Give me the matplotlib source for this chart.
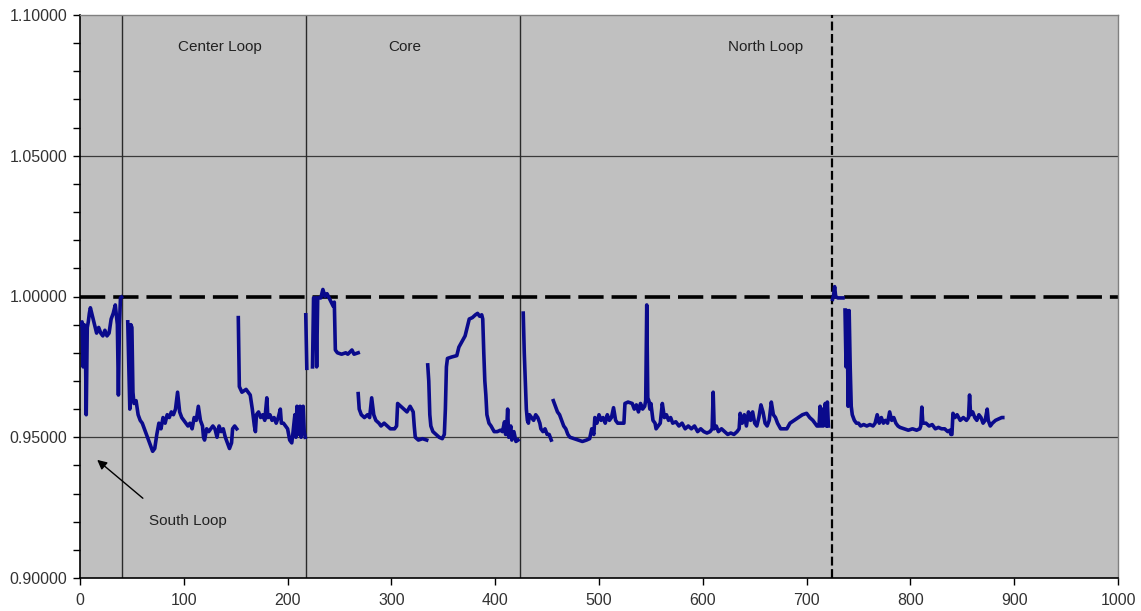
import numpy as np
import matplotlib
matplotlib.use("Agg")
import matplotlib.pyplot as plt
from matplotlib.ticker import MultipleLocator, FormatStrFormatter

plt.rcParams['font.family'] = ['Liberation Sans', 'DejaVu Sans']

# --- Datos (tramos separados por huecos) ---
tramo1_x = [1, 2, 3, 4, 5, 6, 7, 8, 9, 10, 12, 14, 16, 18, 20, 22, 24, 26, 28, 30, 32, 34, 36, 37, 38, 39, 40]
tramo1_y = [0.990, 0.991, 0.975, 0.990, 0.989, 0.958, 0.989, 0.991, 0.994, 0.996, 0.993, 0.990, 0.987, 0.989,
            0.987, 0.986, 0.988, 0.986, 0.987, 0.992, 0.994, 0.997, 0.990, 0.965, 0.990, 0.9995, 0.9998]

tramo2_x = [46, 47, 48, 49, 50, 51, 52, 54, 56, 58, 60, 62, 64, 66, 68, 70, 72, 74, 76, 78, 80, 82, 84, 86,
            88, 90, 92, 94, 96, 98, 100, 102, 104, 106, 108, 110, 112, 114, 116, 118, 119, 120, 122, 124,
            126, 128, 130, 132, 134, 136, 138, 140, 142, 144, 146, 147, 149, 151]
tramo2_y = [0.991, 0.975, 0.960, 0.990, 0.989, 0.966, 0.962, 0.963, 0.958, 0.956, 0.955, 0.953, 0.951, 0.949,
            0.947, 0.945, 0.946, 0.951, 0.955, 0.953, 0.957, 0.955, 0.958, 0.957, 0.959, 0.958, 0.960, 0.966,
            0.959, 0.957, 0.956, 0.955, 0.954, 0.955, 0.953, 0.957, 0.956, 0.961, 0.956, 0.954, 0.950, 0.949,
            0.953, 0.952, 0.953, 0.954, 0.953, 0.950, 0.954, 0.952, 0.953, 0.950, 0.948, 0.946, 0.948, 0.953,
            0.954, 0.953]

tramo3_x = [152.5, 153.5, 156, 160, 164, 166, 168, 169, 170, 172, 174, 176, 178, 180, 181, 183, 185, 187, 189,
            191, 193, 194, 196, 198, 200, 202, 204, 205, 207, 208, 209, 210, 212, 213, 215, 216, 217]
tramo3_y = [0.9925, 0.968, 0.966, 0.967, 0.965, 0.960, 0.954, 0.952, 0.958, 0.959, 0.957, 0.958, 0.956, 0.964,
            0.957, 0.958, 0.956, 0.957, 0.955, 0.957, 0.960, 0.955, 0.955, 0.954, 0.953, 0.949, 0.948, 0.951,
            0.958, 0.950, 0.961, 0.951, 0.961, 0.950, 0.961, 0.952, 0.950]

tramo4_x = [217.5, 218.5]
tramo4_y = [0.9935, 0.9745]

tramo5_x = [224, 225, 227, 228, 229, 232, 234, 236, 238, 240, 242, 244, 245, 246, 248, 252, 256, 258, 262,
            264, 268]
tramo5_y = [0.975, 0.9995, 0.9995, 0.975, 0.9995, 0.9995, 1.0025, 1.000, 1.001, 0.9995, 0.998, 0.9965, 0.998,
            0.981, 0.980, 0.9795, 0.980, 0.9795, 0.981, 0.9795, 0.980]

tramo6_x = [268, 269, 271, 274, 277, 279, 281, 283, 285, 288, 290, 293, 296, 299, 303, 305, 306, 309, 312, 315,
            318, 321, 322, 323, 326, 330, 334]
tramo6_y = [0.9655, 0.960, 0.958, 0.957, 0.958, 0.957, 0.964, 0.958, 0.956, 0.955, 0.954, 0.955, 0.954, 0.953,
            0.953, 0.954, 0.962, 0.961, 0.960, 0.959, 0.961, 0.959, 0.954, 0.950, 0.949, 0.9495, 0.949]

tramo7_x = [335, 336, 337, 338, 340, 343, 346, 349, 351, 352, 353, 354, 358, 363, 365, 368, 371, 373, 375, 378,
            381, 383, 385, 387, 388, 389, 390, 391, 392, 394, 396, 399, 402, 405, 407, 409, 410, 411, 412,
            413, 415, 416, 418, 420, 422]
tramo7_y = [0.9757, 0.970, 0.958, 0.954, 0.952, 0.951, 0.950, 0.9495, 0.951, 0.960, 0.975, 0.978, 0.9785, 0.979,
            0.982, 0.984, 0.986, 0.989, 0.992, 0.9925, 0.9935, 0.994, 0.993, 0.9935, 0.992, 0.980, 0.970, 0.965,
            0.958, 0.955, 0.954, 0.952, 0.952, 0.9525, 0.952, 0.9555, 0.951, 0.953, 0.960, 0.950, 0.954, 0.949,
            0.952, 0.9485, 0.949]

tramo8_x = [427, 428, 429, 430, 431, 432, 433, 435, 437, 439, 441, 443, 444, 446, 448, 450, 452, 454]
tramo8_y = [0.9941, 0.980, 0.970, 0.960, 0.956, 0.955, 0.958, 0.957, 0.956, 0.958, 0.957, 0.955, 0.953, 0.952,
            0.953, 0.951, 0.951, 0.949]

tramo9_x = [456, 458, 460, 462, 464, 466, 468, 470, 472, 476, 480, 484, 488, 491, 493, 495, 496, 498, 500, 502,
            504, 506, 508, 510, 512, 514, 516, 518, 520, 522, 524, 525, 528, 532, 534, 536, 538, 540, 542, 544,
            545, 546, 547, 548, 549, 550, 552, 554, 555, 557, 559, 561, 563, 565, 567, 569, 571, 574, 577, 580,
            583, 586, 589, 592, 595, 598, 601, 604, 607, 609, 610, 611, 613, 615, 618, 621, 624, 627, 630, 633,
            635, 636, 638, 640, 642, 644, 646, 648, 650, 652, 654, 656, 658, 660, 662, 664, 666, 668, 670, 672,
            675, 678, 681, 684, 688, 692, 696, 700, 703, 706, 708, 710, 712, 713, 714, 715, 716, 718, 719, 720,
            721]
tramo9_y = [0.963, 0.961, 0.959, 0.958, 0.956, 0.954, 0.953, 0.951, 0.950, 0.9495, 0.949, 0.9485, 0.949, 0.9495,
            0.953, 0.951, 0.957, 0.955, 0.958, 0.956, 0.957, 0.955, 0.958, 0.956, 0.957, 0.9605, 0.956, 0.955,
            0.955, 0.955, 0.955, 0.962, 0.9625, 0.962, 0.960, 0.9615, 0.959, 0.962, 0.960, 0.961, 0.963, 0.997,
            0.964, 0.963, 0.960, 0.962, 0.956, 0.955, 0.953, 0.954, 0.955, 0.962, 0.957, 0.958, 0.956, 0.957,
            0.955, 0.9555, 0.954, 0.955, 0.953, 0.954, 0.953, 0.954, 0.952, 0.953, 0.952, 0.9515, 0.952, 0.953,
            0.966, 0.953, 0.954, 0.952, 0.953, 0.952, 0.951, 0.9515, 0.951, 0.952, 0.953, 0.9585, 0.955, 0.958,
            0.954, 0.959, 0.956, 0.959, 0.955, 0.954, 0.957, 0.9615, 0.959, 0.955, 0.954, 0.956, 0.9625, 0.958,
            0.957, 0.955, 0.953, 0.953, 0.953, 0.955, 0.956, 0.957, 0.958, 0.9585, 0.957, 0.956, 0.955, 0.954,
            0.954, 0.961, 0.954, 0.960, 0.954, 0.962, 0.954, 0.9625, 0.954]

tramo10_x = [725, 726, 727, 728, 730, 735]
tramo10_y = [0.9990, 1.0005, 1.0035, 1.000, 0.9995, 0.9995]

tramo11_x = [737, 738, 739, 740, 741, 742, 743, 744, 746, 748, 750, 752, 755, 758, 761, 764, 766, 768, 770, 772,
             774, 776, 778, 780, 782, 784, 786, 788, 790, 794, 798, 802, 806, 809, 810, 811, 812, 815, 818, 821,
             824, 827, 830, 833, 836, 838, 839, 840, 841, 843, 845, 848, 851, 854, 856, 857, 858, 860, 862, 864,
             866, 868, 870, 872, 874, 875, 877, 879, 882, 885, 888, 889]
tramo11_y = [0.9952, 0.975, 0.995, 0.961, 0.995, 0.975, 0.961, 0.958, 0.956, 0.955, 0.955, 0.954, 0.9545, 0.954,
             0.9545, 0.954, 0.955, 0.958, 0.955, 0.957, 0.955, 0.956, 0.955, 0.959, 0.956, 0.957, 0.955, 0.954,
             0.9535, 0.953, 0.9525, 0.953, 0.9525, 0.953, 0.954, 0.9607, 0.955, 0.955, 0.954, 0.9545, 0.953,
             0.9535, 0.953, 0.953, 0.952, 0.9525, 0.951, 0.951, 0.9585, 0.957, 0.958, 0.956, 0.957, 0.956, 0.957,
             0.965, 0.958, 0.959, 0.957, 0.956, 0.958, 0.957, 0.955, 0.956, 0.960, 0.956, 0.954, 0.955, 0.956,
             0.9565, 0.957, 0.957]

tramos = [(tramo1_x, tramo1_y), (tramo2_x, tramo2_y), (tramo3_x, tramo3_y), (tramo4_x, tramo4_y),
          (tramo5_x, tramo5_y), (tramo6_x, tramo6_y), (tramo7_x, tramo7_y), (tramo8_x, tramo8_y),
          (tramo9_x, tramo9_y), (tramo10_x, tramo10_y), (tramo11_x, tramo11_y)]

# Limites de zona y etiquetas
limites_zona = [40.5, 218, 423.5]
limite_norte = 724.5
zonas_texto = ['Center Loop', 'Core', 'North Loop']
zonas_x = [135, 313, 660]

# Unir tramos con NaN para que queden huecos
x_all, y_all = [], []
for xs, ys in tramos:
    x_all += list(xs) + [np.nan]
    y_all += list(ys) + [np.nan]

fig = plt.figure(figsize=(11.41, 6.11), dpi=100)
ax = fig.add_axes([80 / 1141, 1 - 578 / 611, 1038 / 1141, 563 / 611])
ax.set_facecolor('#C0C0C0')

ax.set_xlim(0, 1000)
ax.set_ylim(0.90, 1.10)

# Rejilla horizontal
for yg in [0.95, 1.05]:
    ax.axhline(yg, color='#3a3a3a', linewidth=0.9, zorder=1)

# Lineas verticales de zonas
for xv in limites_zona:
    ax.axvline(xv, color='#2a2a2a', linewidth=1.0, zorder=1)
ax.axvline(limite_norte, color='black', linewidth=1.6, linestyle=(0, (4, 1.6)), zorder=3)

# Referencia en 1.0
ax.axhline(1.0, color='black', linewidth=2.6, linestyle=(0, (7, 2.2)), zorder=2)

# Serie principal
ax.plot(x_all, y_all, color='#0a0a8c', linewidth=2.6, solid_joinstyle='round', zorder=4)

# Etiquetas de zonas
for txt, xt in zip(zonas_texto, zonas_x):
    ax.text(xt, 1.0886, txt, ha='center', va='center', fontsize=11, color='#222222')

ax.text(104, 0.9203, 'South Loop', ha='center', va='center', fontsize=11, color='#222222')
ax.annotate('', xy=(14.5, 0.9426), xytext=(62.6, 0.9277),
            arrowprops=dict(arrowstyle='-|>', color='black', lw=1.0, mutation_scale=14))

# Ejes y ticks
ax.xaxis.set_major_locator(MultipleLocator(100))
ax.yaxis.set_major_locator(MultipleLocator(0.05))
ax.yaxis.set_minor_locator(MultipleLocator(0.01))
ax.yaxis.set_major_formatter(FormatStrFormatter('%.5f'))
ax.tick_params(axis='both', which='both', direction='out', length=5, width=1, labelsize=11.5,
               labelcolor='#333333')
ax.tick_params(axis='x', pad=6, top=False)
ax.tick_params(axis='y', pad=4, right=False)

for lado in ['top', 'right']:
    ax.spines[lado].set_color('#808080')
    ax.spines[lado].set_linewidth(1.0)
for lado in ['left', 'bottom']:
    ax.spines[lado].set_color('black')
    ax.spines[lado].set_linewidth(1.2)

fig.savefig('out.png', dpi=100, facecolor='white')
